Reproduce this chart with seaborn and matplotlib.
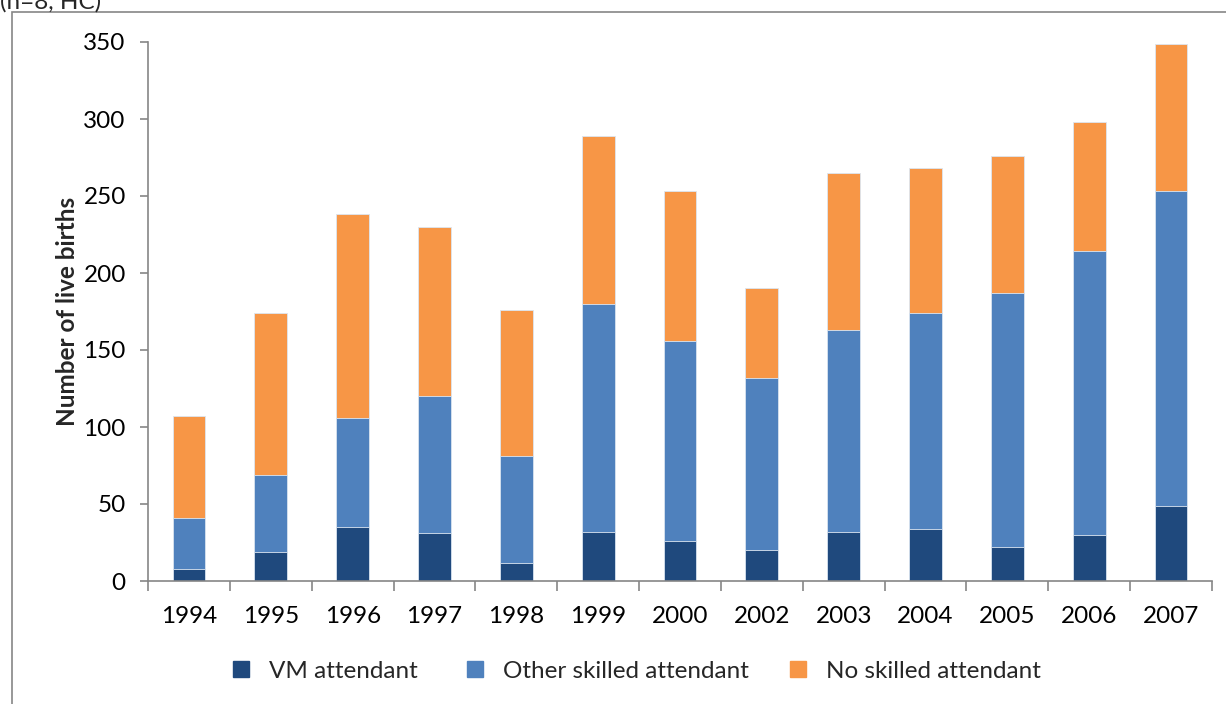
import matplotlib
matplotlib.use("Agg")
import matplotlib.pyplot as plt
import seaborn as sns
import pandas as pd
import numpy as np
from matplotlib.lines import Line2D
from matplotlib.patches import Rectangle

years = ["1994", "1995", "1996", "1997", "1998", "1999", "2000", "2002",
         "2003", "2004", "2005", "2006", "2007"]
vm_attendant = [8, 19, 35, 31, 12, 32, 26, 20, 32, 34, 22, 30, 49]
other_skilled = [33, 50, 71, 89, 69, 148, 130, 112, 131, 140, 165, 184, 204]
no_skilled = [66, 105, 132, 110, 95, 109, 97, 58, 102, 94, 89, 84, 96]
series_names = ["VM attendant", "Other skilled attendant", "No skilled attendant"]
colors = ["#1F497D", "#4F81BD", "#F79646"]

sns.set_theme(style="white")
plt.rcParams["font.family"] = ["Lato", "DejaVu Sans"]

df = pd.DataFrame({"year": years, "vm": vm_attendant,
                   "other": other_skilled, "none": no_skilled})
df["c1"] = df["vm"]
df["c2"] = df["vm"] + df["other"]
df["c3"] = df["c2"] + df["none"]

fig = plt.figure(figsize=(12.26, 7.04), dpi=100)
ax = fig.add_axes([148 / 1226, 1 - 581 / 704, (1212 - 148) / 1226, (581 - 42) / 704])

for col, c in zip(["c3", "c2", "c1"], colors[::-1]):
    sns.barplot(data=df, x="year", y=col, order=years, color=c, width=0.40,
                ax=ax, saturation=1, edgecolor="#dce6f2", linewidth=0.6)

ax.set_ylim(0, 350)
ax.set_xlim(-0.5, len(years) - 0.5)
ax.set_yticks(np.arange(0, 351, 50))
ax.set_xlabel("")
ax.set_ylabel("Number of live births", fontsize=17.5, fontweight="bold", labelpad=3)

for s in ["top", "right"]:
    ax.spines[s].set_visible(False)
for s in ["left", "bottom"]:
    ax.spines[s].set_color("#868686")
    ax.spines[s].set_linewidth(1.2)

ax.tick_params(axis="y", which="major", length=6, width=1.2, color="#868686",
               direction="out", labelsize=17.5, pad=10, left=True)
ax.set_xticks(np.arange(-0.5, len(years), 1.0), minor=True)
ax.tick_params(axis="x", which="minor", length=7, width=1.2, color="#868686",
               direction="out", bottom=True)
ax.tick_params(axis="x", which="major", length=0, labelsize=17.5, pad=18)
for t in ax.get_xticklabels() + ax.get_yticklabels():
    t.set_color("black")

# legend entries placed individually (marker left edges in pixels)
legend_left_px = [231, 465, 788]
for name, c, xpx in zip(series_names, colors, legend_left_px):
    h = Line2D([0], [0], marker="s", linestyle="none", markersize=11.5,
               markerfacecolor=c, markeredgecolor=c)
    lg = fig.legend([h], [name], loc="center left",
                    bbox_to_anchor=(xpx / 1226, 1 - 671 / 704),
                    frameon=False, fontsize=17.5, handlelength=0.8,
                    handletextpad=0.75, borderpad=0, borderaxespad=0)

fig.patches.append(Rectangle((12 / 1226, -0.1), 1.2, 1 - 12 / 704 + 0.1,
                             transform=fig.transFigure, fill=False,
                             edgecolor="#868686", linewidth=1.2))
fig.text(0, 1 - 2 / 704, "(n=8, HC)", fontsize=17.5, ha="left", va="center")

fig.savefig("out.png", dpi=100)
